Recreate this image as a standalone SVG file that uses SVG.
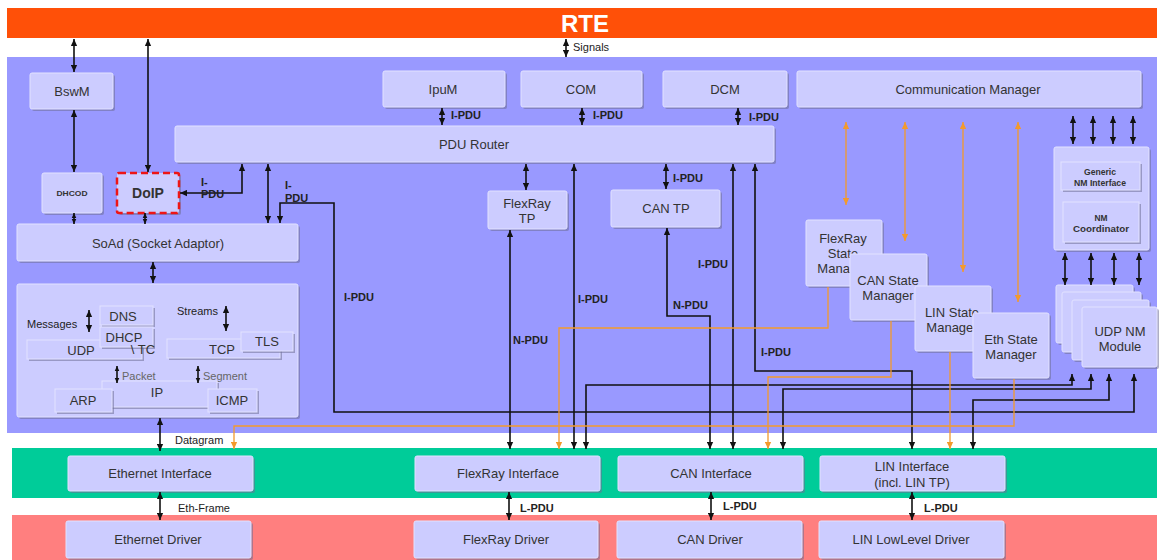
<svg xmlns="http://www.w3.org/2000/svg" width="1159" height="560" viewBox="0 0 1159 560">
<defs>
<marker id="a" viewBox="0 0 10 10" refX="10" refY="5" markerWidth="7" markerHeight="7" markerUnits="userSpaceOnUse" orient="auto-start-reverse"><path d="M0,0.5 L10,5 L0,9.5 z" fill="#111"/></marker>
<marker id="as" viewBox="0 0 10 10" refX="10" refY="5" markerWidth="5" markerHeight="6" markerUnits="userSpaceOnUse" orient="auto-start-reverse"><path d="M0,0.5 L10,5 L0,9.5 z" fill="#111"/></marker>
<marker id="o" viewBox="0 0 10 10" refX="10" refY="5" markerWidth="7" markerHeight="7" markerUnits="userSpaceOnUse" orient="auto-start-reverse"><path d="M0,0.5 L10,5 L0,9.5 z" fill="#F39A2C"/></marker>
</defs>
<style>
.sh{fill:#6E6E96;opacity:0.55}
.bx{fill:#CCCCFF;stroke:#E2E2FF;stroke-width:1}
.n{font-family:"Liberation Sans",Arial,sans-serif;font-size:13px;fill:#333;text-anchor:middle}
.l{font-family:"Liberation Sans",Arial,sans-serif;font-size:11px;font-weight:bold;fill:#222}
.t{font-family:"Liberation Sans",Arial,sans-serif;font-size:11px;fill:#222}
.g{font-family:"Liberation Sans",Arial,sans-serif;font-size:11px;fill:#666}
.k{fill:none;stroke:#111;stroke-width:1.6}
.d{fill:none;stroke:#111;stroke-width:1.6;marker-start:url(#a);marker-end:url(#a)}
.ds{fill:none;stroke:#111;stroke-width:1.6;marker-start:url(#as);marker-end:url(#as)}
.e{fill:none;stroke:#111;stroke-width:1.6;marker-end:url(#a)}
.od{fill:none;stroke:#F39A2C;stroke-width:1.3;marker-start:url(#o);marker-end:url(#o)}
.oe{fill:none;stroke:#F39A2C;stroke-width:1.3;marker-end:url(#o)}
.tiny{font-family:"Liberation Sans",Arial,sans-serif;font-weight:bold;fill:#333;text-anchor:middle}
</style>
<rect width="1159" height="560" fill="#FFFFFF"/>
<!-- layers -->
<g id="layers">
<rect x="7" y="8" width="1150" height="30" fill="#FF5008"/>
<rect x="7" y="57" width="1150" height="376" fill="#9999FF"/>
<rect x="12" y="448" width="1145" height="50" fill="#00CC99"/>
<rect x="12" y="515" width="1145" height="45" fill="#FF7F7F"/>
</g>
<g id="RTE"><text x="585" y="32" font-family="Liberation Sans,Arial,sans-serif" font-size="24" font-weight="bold" fill="#FFFFFF" text-anchor="middle">RTE</text></g>

<!-- nodes -->
<g id="BswM"><rect class="sh" x="32" y="75" width="83" height="36" rx="2"/><rect class="bx" x="30" y="73" width="83" height="36" rx="2"/><text class="n" x="72" y="96">BswM</text></g>
<g id="DHCOD"><rect class="sh" x="44" y="175" width="60" height="40" rx="2"/><rect class="bx" x="42" y="173" width="60" height="40" rx="2"/><text class="tiny" x="72" y="196" font-size="7" textLength="31" lengthAdjust="spacingAndGlyphs">DHCOD</text></g>
<g id="DoIP"><rect class="sh" x="119" y="175" width="62" height="40" rx="2"/><rect x="117" y="173" width="62" height="40" rx="2" fill="#CCCCFF" stroke="#EE1515" stroke-width="2.5" stroke-dasharray="7,4"/><text x="148" y="198" font-family="Liberation Sans,Arial,sans-serif" font-size="14" font-weight="bold" fill="#333" text-anchor="middle">DoIP</text></g>
<g id="IpuM"><rect class="sh" x="385" y="73" width="122" height="36" rx="2"/><rect class="bx" x="383" y="71" width="122" height="36" rx="2"/><text class="n" x="443" y="94">IpuM</text></g>
<g id="COM"><rect class="sh" x="523" y="73" width="121" height="36" rx="2"/><rect class="bx" x="521" y="71" width="121" height="36" rx="2"/><text class="n" x="581" y="94">COM</text></g>
<g id="DCM"><rect class="sh" x="665" y="73" width="124" height="36" rx="2"/><rect class="bx" x="663" y="71" width="124" height="36" rx="2"/><text class="n" x="725" y="94">DCM</text></g>
<g id="ComM"><rect class="sh" x="799" y="73" width="344" height="36" rx="2"/><rect class="bx" x="797" y="71" width="344" height="36" rx="2"/><text class="n" x="968" y="94">Communication Manager</text></g>
<g id="PDURouter"><rect class="sh" x="177" y="128" width="599" height="36" rx="2"/><rect class="bx" x="175" y="126" width="599" height="36" rx="2"/><text class="n" x="474" y="149">PDU Router</text></g>
<g id="SoAd"><rect class="sh" x="19" y="226" width="281" height="37" rx="2"/><rect class="bx" x="17" y="224" width="281" height="37" rx="2"/><text class="n" x="158" y="248">SoAd (Socket Adaptor)</text></g>
<g id="TcpIp">
<rect class="sh" x="19" y="286" width="281" height="133" rx="2"/><rect class="bx" x="17" y="284" width="281" height="133" rx="2"/>
<text class="t" x="27" y="328">Messages</text>
<text class="t" x="177" y="315">Streams</text>
<rect class="sh" x="102" y="308" width="53" height="19"/><rect class="bx" x="100" y="306" width="53" height="19"/><text class="n" x="123" y="321">DNS</text>
<rect class="sh" x="29" y="342" width="115" height="19"/><rect class="bx" x="27" y="340" width="115" height="19"/><text class="n" x="81" y="355">UDP</text>
<rect class="sh" x="102" y="329" width="53" height="20"/><rect class="bx" x="100" y="327" width="53" height="20"/><text class="n" x="124" y="342">DHCP</text>
<text class="n" x="143" y="354" text-anchor="start">\ TC</text>
<rect class="sh" x="169" y="341" width="113" height="19"/><rect class="bx" x="167" y="339" width="113" height="19"/><text class="n" x="222" y="354">TCP</text>
<rect class="sh" x="243" y="334" width="52" height="19"/><rect class="bx" x="241" y="332" width="52" height="19"/><text class="n" x="267" y="346">TLS</text>
<text class="g" x="122" y="380">Packet</text>
<text class="g" x="203" y="380">Segment</text>
<rect class="sh" x="104" y="383" width="115" height="26"/><rect class="bx" x="102" y="381" width="115" height="26"/><text class="n" x="157" y="397">IP</text>
<rect class="sh" x="57" y="391" width="57" height="23"/><rect class="bx" x="55" y="389" width="57" height="23"/><text class="n" x="83" y="405">ARP</text>
<rect class="sh" x="210" y="391" width="49" height="23"/><rect class="bx" x="208" y="389" width="49" height="23"/><text class="n" x="232" y="405">ICMP</text>
</g>
<g id="FlexRayTP"><rect class="sh" x="490" y="193" width="79" height="38" rx="2"/><rect class="bx" x="488" y="191" width="79" height="38" rx="2"/><text class="n" x="527" y="208">FlexRay</text><text class="n" x="527" y="223">TP</text></g>
<g id="CanTP"><rect class="sh" x="613" y="192" width="109" height="37" rx="2"/><rect class="bx" x="611" y="190" width="109" height="37" rx="2"/><text class="n" x="666" y="213">CAN TP</text></g>
<g id="FrSM"><rect class="sh" x="808" y="222" width="76" height="66" rx="2"/><rect class="bx" x="806" y="220" width="76" height="66" rx="2"/><text class="n" x="843" y="243">FlexRay</text><text class="n" x="843" y="258">State</text><text class="n" x="843" y="273">Manager</text></g>
<g id="CanSM"><rect class="sh" x="852" y="256" width="77" height="66" rx="2"/><rect class="bx" x="850" y="254" width="77" height="66" rx="2"/><text class="n" x="888" y="285">CAN State</text><text class="n" x="888" y="300">Manager</text></g>
<g id="LinSM"><rect class="sh" x="917" y="288" width="76" height="65" rx="2"/><rect class="bx" x="915" y="286" width="76" height="65" rx="2"/><text class="n" x="952" y="317">LIN State</text><text class="n" x="952" y="332">Manager</text></g>
<g id="EthSM"><rect class="sh" x="975" y="315" width="76" height="65" rx="2"/><rect class="bx" x="973" y="313" width="76" height="65" rx="2"/><text class="n" x="1011" y="344">Eth State</text><text class="n" x="1011" y="359">Manager</text></g>
<g id="NM">
<rect class="sh" x="1056" y="149" width="95" height="103" rx="2"/><rect class="bx" x="1054" y="147" width="95" height="103" rx="2"/>
<rect class="sh" x="1063" y="164" width="79" height="28"/><rect class="bx" x="1061" y="162" width="79" height="28"/>
<text class="tiny" x="1100" y="175" font-size="8.5" textLength="32" lengthAdjust="spacingAndGlyphs">Generic</text>
<text class="tiny" x="1100" y="186" font-size="8.5" textLength="52" lengthAdjust="spacingAndGlyphs">NM Interface</text>
<rect class="sh" x="1065" y="204" width="76" height="40"/><rect class="bx" x="1063" y="202" width="76" height="40"/>
<text class="tiny" x="1101" y="221" font-size="8.5" textLength="13" lengthAdjust="spacingAndGlyphs">NM</text>
<text class="tiny" x="1101" y="232" font-size="8.5" textLength="56" lengthAdjust="spacingAndGlyphs">Coordinator</text>
</g>
<g id="UdpNm">
<rect class="sh" x="1058" y="287" width="77" height="58" rx="2"/><rect class="bx" x="1056" y="285" width="77" height="58" rx="2"/>
<rect class="sh" x="1064" y="294" width="79" height="60" rx="2"/><rect class="bx" x="1062" y="292" width="79" height="60" rx="2"/>
<rect class="sh" x="1074" y="302" width="77" height="60" rx="2"/><rect class="bx" x="1072" y="300" width="77" height="60" rx="2"/>
<rect class="sh" x="1084" y="309" width="75" height="60" rx="2"/><rect class="bx" x="1082" y="307" width="75" height="60" rx="2"/>
<text class="n" x="1120" y="336">UDP NM</text><text class="n" x="1120" y="351">Module</text>
</g>
<g id="EthIf"><rect class="sh" x="70" y="458" width="185" height="35" rx="2"/><rect class="bx" x="68" y="456" width="185" height="35" rx="2"/><text class="n" x="160" y="478">Ethernet Interface</text></g>
<g id="FrIf"><rect class="sh" x="417" y="458" width="185" height="35" rx="2"/><rect class="bx" x="415" y="456" width="185" height="35" rx="2"/><text class="n" x="508" y="478">FlexRay Interface</text></g>
<g id="CanIf"><rect class="sh" x="620" y="458" width="185" height="35" rx="2"/><rect class="bx" x="618" y="456" width="185" height="35" rx="2"/><text class="n" x="711" y="478">CAN Interface</text></g>
<g id="LinIf"><rect class="sh" x="822" y="458" width="185" height="35" rx="2"/><rect class="bx" x="820" y="456" width="185" height="35" rx="2"/><text class="n" x="912" y="471">LIN Interface</text><text class="n" x="912" y="487">(incl. LIN TP)</text></g>
<g id="EthDrv"><rect class="sh" x="68" y="523" width="185" height="37" rx="2"/><rect class="bx" x="66" y="521" width="185" height="37" rx="2"/><text class="n" x="158" y="544">Ethernet Driver</text></g>
<g id="FrDrv"><rect class="sh" x="416" y="523" width="184" height="37" rx="2"/><rect class="bx" x="414" y="521" width="184" height="37" rx="2"/><text class="n" x="506" y="544">FlexRay Driver</text></g>
<g id="CanDrv"><rect class="sh" x="619" y="523" width="185" height="37" rx="2"/><rect class="bx" x="617" y="521" width="185" height="37" rx="2"/><text class="n" x="710" y="544">CAN Driver</text></g>
<g id="LinDrv"><rect class="sh" x="821" y="523" width="185" height="37" rx="2"/><rect class="bx" x="819" y="521" width="185" height="37" rx="2"/><text class="n" x="911" y="544">LIN LowLevel Driver</text></g>

<!-- connectors -->
<g id="connectors">
<path class="d" d="M566,39 V57"/>
<path class="d" d="M74,39 V72"/>
<path class="d" d="M74,110 V172"/>
<path class="d" d="M148,39 V172"/>
<path class="d" d="M180,193 H242 V164"/>
<path class="ds" d="M74,213 V224"/>
<path class="ds" d="M145,213 V224"/>
<path class="d" d="M268,164 V223"/>
<path class="d" d="M280,223 V203 H334 V412 H1134 V374"/>
<path class="d" d="M153,262 V283"/>
<path class="d" d="M160,418 V451"/>
<path class="d" d="M160,492 V520"/>
<path class="d" d="M442,108 V125"/>
<path class="d" d="M582,108 V125"/>
<path class="d" d="M738,108 V125"/>
<path class="d" d="M526,164 V190"/>
<path class="d" d="M666,164 V189"/>
<path class="d" d="M510,230 V449"/>
<path class="d" d="M574,164 V449"/>
<path class="d" d="M667,228 V316 H710 V449"/>
<path class="d" d="M733,164 V449"/>
<path class="d" d="M755,164 V371 H912 V449"/>
<path class="d" d="M1072,374 V385 H586 V449"/>
<path class="d" d="M1091,374 V389 H783 V449"/>
<path class="d" d="M1109,374 V400 H973 V449"/>
<path class="d" d="M1073,116 V144"/>
<path class="d" d="M1093,116 V144"/>
<path class="d" d="M1113,116 V144"/>
<path class="d" d="M1133,116 V144"/>
<path class="d" d="M1065,253 V285"/>
<path class="d" d="M1091,253 V285"/>
<path class="d" d="M1114,253 V285"/>
<path class="d" d="M1139,253 V285"/>
<path class="d" d="M509,492 V520"/>
<path class="d" d="M711,492 V520"/>
<path class="d" d="M912,492 V520"/>
<path class="d" d="M89,310 V332"/>
<path class="d" d="M226,306 V331"/>
<path class="ds" d="M117,366 V383"/>
<path class="ds" d="M198,366 V383"/>
<path class="od" d="M846,122 V205"/>
<path class="od" d="M905,122 V241"/>
<path class="od" d="M963,122 V272"/>
<path class="od" d="M1018,122 V302"/>
<path class="oe" d="M828,287 V328 H559 V449"/>
<path class="oe" d="M891,321 V377 H768 V449"/>
<path class="oe" d="M950,352 V449"/>
<path class="oe" d="M1014,379 V426 H234 V449"/>
</g>
<g id="labels">
<text class="t" x="573" y="51" font-size="10.5">Signals</text>
<text class="l" x="451" y="119">I-PDU</text>
<text class="l" x="593" y="119">I-PDU</text>
<text class="l" x="749" y="121">I-PDU</text>
<text class="l" x="673" y="182">I-PDU</text>
<text class="l" x="201" y="186">I-</text>
<text class="l" x="201" y="198">PDU</text>
<text class="l" x="285" y="189">I-</text>
<text class="l" x="285" y="202">PDU</text>
<text class="l" x="344" y="301">I-PDU</text>
<text class="l" x="578" y="303">I-PDU</text>
<text class="l" x="698" y="268">I-PDU</text>
<text class="l" x="761" y="356">I-PDU</text>
<text class="l" x="513" y="344">N-PDU</text>
<text class="l" x="673" y="309">N-PDU</text>
<text class="t" x="175" y="444">Datagram</text>
<text class="t" x="178" y="512">Eth-Frame</text>
<text class="l" x="520" y="512">L-PDU</text>
<text class="l" x="723" y="510">L-PDU</text>
<text class="l" x="924" y="512">L-PDU</text>
</g>
</svg>
